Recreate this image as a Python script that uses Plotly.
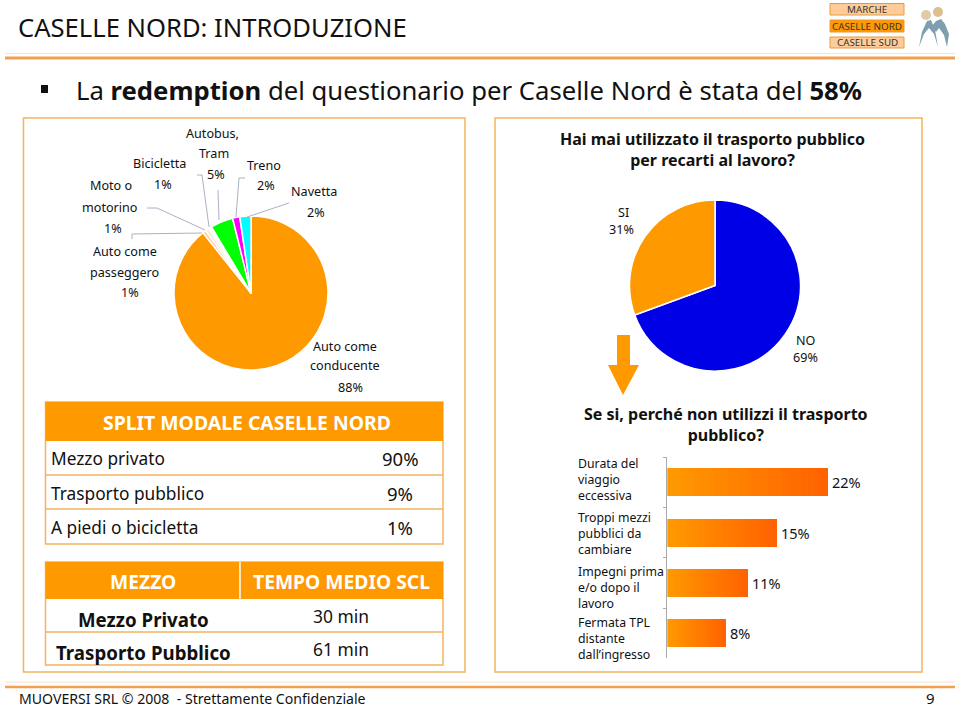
import plotly.graph_objects as go

W, H = 959, 708
FONT = "Noto Sans"
ORANGE = "#FF9900"
FRAME = "#F2B45F"
GREY = "#B0B0C4"

# ---- data ----
mode_names = ["Auto come conducente", "Auto come passeggero", "Moto o motorino", "Bicicletta",
              "Autobus, Tram", "Treno", "Navetta"]
mode_values = [88.4, 0.7, 0.7, 0.7, 4.7, 1.5, 2.3]
mode_colors = ["#FF9900", "#FFCC99", "#FFE6CC", "#FFFFFF", "#00FF00", "#FF00FF", "#00FFFF"]
tpl_names = ["NO", "SI"]
tpl_values = [69.4, 30.6]
tpl_colors = ["#0000E6", "#FF9900"]
reason_lines = [["Durata del", "viaggio", "eccessiva"],
                ["Troppi mezzi", "pubblici da", "cambiare"],
                ["Impegni prima", "e/o dopo il", "lavoro"],
                ["Fermata TPL", "distante", "dall’ingresso"]]
reason_values = [22, 15, 11, 8]
split_rows = ["Mezzo privato", "Trasporto pubblico", "A piedi o bicicletta"]
split_values = ["90%", "9%", "1%"]
time_rows = ["Mezzo Privato", "Trasporto Pubblico"]
time_values = ["30 min", "61 min"]


def X(p):
    return p / W


def Y(p):
    return 1 - p / H


annotations, shapes = [], []


def txt(x, y, s, size=13.5, color="#111", anchor="center", bold=False):
    annotations.append(dict(xref="paper", yref="paper", x=X(x), y=Y(y), text=f"<b>{s}</b>" if bold else s,
                            showarrow=False, xanchor=anchor, yanchor="middle",
                            font=dict(family=FONT, size=size, color=color)))


def rect(x0, y0, x1, y1, fill=None, line=None, w=1):
    shapes.append(dict(type="rect", xref="paper", yref="paper", x0=X(x0), x1=X(x1), y0=Y(y0), y1=Y(y1),
                       fillcolor=fill or "rgba(0,0,0,0)",
                       line=dict(color=line or "rgba(0,0,0,0)", width=w if line else 0)))


def poly(pts, color=GREY, w=1, fill=None):
    d = "M" + " L".join(f"{X(a):.5f},{Y(b):.5f}" for a, b in pts)
    if fill:
        d += " Z"
    shapes.append(dict(type="path", xref="paper", yref="paper", path=d,
                       fillcolor=fill or "rgba(0,0,0,0)",
                       line=dict(color=color, width=w if w else 0)))


def circle(cx, cy, r, fill):
    shapes.append(dict(type="circle", xref="paper", yref="paper", x0=X(cx - r), x1=X(cx + r),
                       y0=Y(cy - r), y1=Y(cy + r), fillcolor=fill, line=dict(width=0)))


fig = go.Figure()

# pies
fig.add_trace(go.Pie(labels=mode_names, values=mode_values, sort=False, direction="clockwise", rotation=0,
                     marker=dict(colors=mode_colors, line=dict(color="#FFFFFF", width=1.5)),
                     textinfo="none", showlegend=False,
                     domain=dict(x=[X(174), X(328)], y=[Y(370), Y(216)])))
fig.add_trace(go.Pie(labels=tpl_names, values=tpl_values, sort=False, direction="clockwise", rotation=0,
                     marker=dict(colors=tpl_colors, line=dict(color="#FFFFFF", width=1.5)),
                     textinfo="none", showlegend=False,
                     domain=dict(x=[X(629), X(801)], y=[Y(371), Y(200)])))

# gradient bars: each bar is split in equal stacked parts of its own value
n = 24
cats = ["|".join(r) for r in reason_lines]
for i in range(n):
    g = round(153 - (153 - 98) * i / (n - 1))
    fig.add_trace(go.Bar(y=cats, x=[v / n for v in reason_values], orientation="h",
                         marker=dict(color=f"rgb(255,{g},0)", line=dict(width=0)),
                         showlegend=False, hoverinfo="skip"))

fig.update_layout(
    width=W, height=H, margin=dict(l=0, r=0, t=0, b=0), paper_bgcolor="white", plot_bgcolor="rgba(0,0,0,0)",
    barmode="stack", bargap=0.44, autosize=False,
    xaxis=dict(domain=[X(667.3), X(667.3 + 30 * 7.3)], range=[0, 30], visible=False),
    yaxis=dict(domain=[Y(658.3), Y(457.3)], type="category", categoryorder="array", categoryarray=cats,
               autorange="reversed", showticklabels=False, showgrid=False, zeroline=False, showline=True,
               linecolor="#AAAAAA", linewidth=1, ticks="outside", ticklen=3, tickcolor="#AAAAAA",
               tickson="boundaries"),
)

for c, v in zip(cats, reason_values):
    annotations.append(dict(xref="x", yref="y", x=v, y=c, text=f"{v}%", showarrow=False, xanchor="left",
                            xshift=2, font=dict(family=FONT, size=14.5, color="#111")))

# rules
poly([(5, 53.5), (955, 53.5)], "#FBE3C8", 1)
poly([(5, 58), (955, 58)], "#F2A050", 3)
poly([(5, 682), (955, 682)], "#FBE3C8", 1)
poly([(5, 687), (955, 687)], "#F2A050", 2.5)

# frames
rect(23.5, 118, 465, 672, line=FRAME, w=1.5)
rect(495, 118, 922, 672, line=FRAME, w=1.5)

# header
txt(16, 28, "CASELLE NORD: INTRODUZIONE", 25.6, "#111", "left")
rect(41, 85, 48, 93, fill="#111")
txt(74, 90, "La <b>redemption</b> del questionario per Caselle Nord è stata del <b>58%</b>", 25.7, "#111", "left")
for (y0, y1, name, col) in [(3.5, 15, "MARCHE", "#FFCC99"), (20, 32, "CASELLE NORD", "#FF9900"),
                            (37, 48, "CASELLE SUD", "#FFCC99")]:
    rect(830, y0, 904, y1, fill=col, line="#E59A3C", w=1)
    txt(867, (y0 + y1) / 2, name, 9.8, "#333")
circle(926, 15, 5, "#DFCBA6")
circle(938, 12, 5, "#DDBE8E")
poly([(919, 47), (922, 32), (927, 21), (931, 20), (935, 30), (938, 47), (934, 34), (929, 28), (924, 34)],
     color="#7F9FB0", w=0, fill="#7F9FB0")
poly([(932, 26), (936, 21), (941, 19), (945, 24), (949, 34), (947, 47), (944, 35), (939, 28), (936, 32)],
     color="#7F9FB0", w=0, fill="#7F9FB0")

# pie labels
for x, y, s in [(212, 133, "Autobus,"), (214, 154, "Tram"), (216, 175, "5%"),
                (159, 163, "Bicicletta"), (163, 184, "1%"),
                (264, 165, "Treno"), (266, 186, "2%"),
                (314, 191, "Navetta"), (316, 212, "2%"),
                (111, 186, "Moto o"), (109, 207, "motorino"), (113, 228, "1%"),
                (125, 251, "Auto come"), (124, 272, "passeggero"), (130, 293, "1%"),
                (345, 346, "Auto come"), (345, 366, "conducente"), (350, 387, "88%"),
                (623, 212, "SI"), (621, 230, "31%"), (806, 340, "NO"), (805, 358, "69%")]:
    txt(x, y, s, 12.6)

# leader lines
for pts in [[(289, 203), (247, 217)], [(245, 178), (239, 178), (236, 217)], [(218, 190), (219, 220)],
            [(197, 175), (202, 175), (209, 227)], [(147, 208), (157, 208), (205, 230)],
            [(132, 239), (132, 234), (202, 233)]]:
    poly(pts)

# right titles
txt(712, 149.5, "<b>Hai mai utilizzato il trasporto pubblico<br>per recarti al lavoro?</b>", 16)
txt(726, 424.5, "<b>Se si, perché non utilizzi il trasporto<br>pubblico?</b>", 16)

# arrow
poly([(617, 335), (630, 335), (630, 365), (639, 365), (623, 395), (608, 365), (617, 365)],
     color=ORANGE, w=0, fill=ORANGE)

# bar category labels
for lines, y0 in zip(reason_lines, [463.5, 517, 571, 622]):
    for k, s in enumerate(lines):
        txt(576, y0 + 16 * k, s, 12.3, anchor="left")

# table 1
rect(45.5, 402, 443, 544, line=FRAME, w=1.5)
rect(45.5, 402, 443, 441, fill=ORANGE)
txt(247, 422, "SPLIT MODALE CASELLE NORD", 19.4, "#FFFFFF", bold=True)
for k, (a, b) in enumerate(zip(split_rows, split_values)):
    yc = [458, 493, 527][k]
    txt(49, yc, a, 17.3, anchor="left")
    txt(400, yc, b, 18.5)
for y in (475, 509):
    poly([(45.5, y), (443, y)], FRAME, 1.5)

# table 2
rect(45.5, 562, 443, 665, line=FRAME, w=1.5)
rect(45.5, 562, 443, 599, fill=ORANGE)
poly([(240, 562), (240, 599)], "#FFFFFF", 1.5)
txt(143, 581, "MEZZO", 19.3, "#FFFFFF", bold=True)
txt(341, 581, "TEMPO MEDIO SCL", 19.3, "#FFFFFF", bold=True)
for k, (a, b) in enumerate(zip(time_rows, time_values)):
    txt(143, [619, 652][k], a, 18.7, bold=True)
    txt(341, [616, 649][k], b, 17.4)
poly([(45.5, 632), (443, 632)], FRAME, 1.5)

# footer
txt(17, 698, "MUOVERSI SRL © 2008  - Strettamente Confidenziale", 14.1, anchor="left")
txt(930, 698, "9", 15)

fig.update_layout(annotations=annotations, shapes=shapes)
fig.write_html("out.html", config=dict(displayModeBar=False),
               post_script="document.body.style.margin='0';document.body.style.overflow='hidden';")
